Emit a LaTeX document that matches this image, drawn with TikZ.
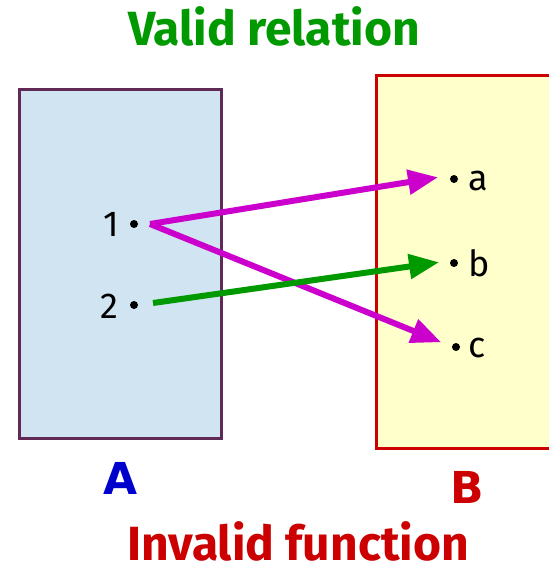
\documentclass[tikz,border=0pt]{standalone}
\usepackage{fontspec}
\setmainfont{Fira Sans}
\newfontfamily\djv{DejaVu Sans}
\usetikzlibrary{arrows.meta}
\definecolor{boxAfill}{HTML}{D0E4F2}
\definecolor{boxAdraw}{HTML}{5F2A55}
\definecolor{boxBfill}{HTML}{FFFFCC}
\definecolor{boxBdraw}{HTML}{CC0000}
\definecolor{magen}{HTML}{CC00CC}
\definecolor{grn}{HTML}{009900}
\definecolor{titlered}{HTML}{CC0000}
\definecolor{blueA}{HTML}{0000CC}
\tikzset{
  setbox/.style={line width=3pt},
  elem/.style={circle,fill=black,inner sep=0pt,minimum size=8pt},
  lab/.style={font=\fontsize{36}{36}\selectfont, inner sep=0pt},
  maparrow/.style={line width=6pt,-{Triangle[length=30pt,width=24pt]},shorten >=2pt},
  title/.style={font=\fontsize{48}{48}\selectfont\bfseries, inner sep=0pt, anchor=base, text depth=0pt},
  setname/.style={font=\djv\fontsize{44}{44}\selectfont\bfseries}
}
\begin{document}
\begin{tikzpicture}[x=1pt,y=-1pt]
\useasboundingbox (0,0) rectangle (548,569);
\fill[white] (0,0) rectangle (548,569);
\draw[setbox,draw=boxAdraw,fill=boxAfill] (19,90) rectangle (221,438);
\draw[setbox,draw=boxBdraw,fill=boxBfill] (376,76) rectangle (560,448);
\node[elem] (d1) at (134,224) {};
\node[elem] (d2) at (134,305) {};
\node[elem] (da) at (454,179) {};
\node[elem] (db) at (454,263) {};
\node[elem] (dc) at (456,347) {};
\node[lab,anchor=east] (l1) at (119,224) {1};
\node[lab,anchor=east] (l2) at (119,306) {2};
\node[lab,anchor=west] (la) at (468,181) {a};
\node[lab,anchor=west] (lb) at (468,263) {b};
\node[lab,anchor=west] (lc) at (468,348) {c};
\coordinate (s1) at (150,224);
\coordinate (s2) at (153,303);
\coordinate (ta) at (440,177);
\coordinate (tb) at (441,262);
\coordinate (tc) at (443,343);
\draw[maparrow,draw=magen,fill=magen] (s1) -- (ta);
\draw[maparrow,draw=magen,fill=magen] (s1) -- (tc);
\draw[maparrow,draw=grn,fill=grn] (s2) -- (tb);
\node[title,text=grn] (t1) at (274,46) {Valid relation};
\node[title,text=titlered] (t2) at (298,560) {Invalid function};
\node[setname,text=blueA] (nA) at (121,478) {A};
\node[setname,text=titlered] (nB) at (467,487) {B};
\end{tikzpicture}
\end{document}
